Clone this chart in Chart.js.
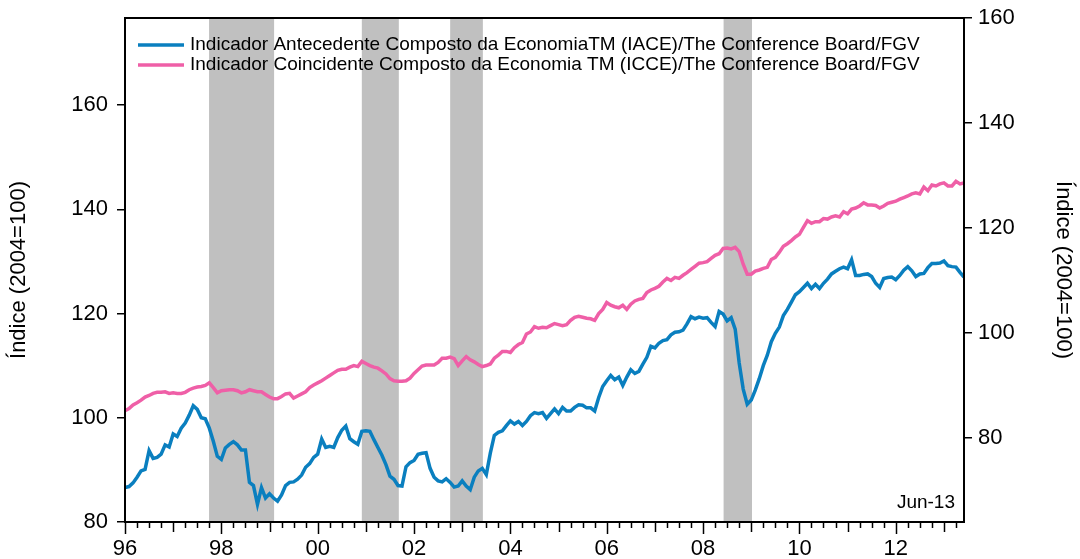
<!DOCTYPE html>
<html>
<head>
<meta charset="utf-8">
<script src="https://cdn.jsdelivr.net/npm/chart.js@4.4.0/dist/chart.umd.min.js"></script>
<style>
    html, body { margin: 0; padding: 0; background: #fff; }
    #wrap { width: 1080px; height: 559px; }
</style>
</head>
<body>
<div id="wrap"><canvas id="iaceChart" width="1080" height="559"></canvas></div>
<script>
// monthly series, Jan 1996 .. Jun 2013
var startYear = 1996;

var iace = [
    86.6, 86.8, 87.5, 88.6, 89.8, 90.1, 93.7, 92.2, 92.4, 93.0, 94.8, 94.4,
    96.9, 96.4, 98.0, 99.0, 100.5, 102.3, 101.6, 100.0, 99.8, 98.0, 95.5, 92.6,
    92.0, 94.2, 94.9, 95.4, 94.8, 93.8, 93.8, 87.6, 87.0, 83.4, 86.6, 84.6,
    85.4, 84.6, 84.0, 85.2, 87.0, 87.6, 87.7, 88.2, 89.0, 90.5, 91.2, 92.4,
    93.0, 95.9, 94.3, 94.5, 94.3, 96.2, 97.6, 98.4, 96.0, 95.4, 94.9, 97.4,
    97.5, 97.4, 95.8, 94.3, 92.8, 91.0, 88.8, 88.2, 87.0, 86.9, 90.6, 91.4,
    91.8, 93.0, 93.2, 93.3, 90.3, 88.6, 87.9, 87.7, 88.3, 87.6, 86.7, 86.9,
    87.9, 86.9, 86.2, 88.6, 89.8, 90.3, 89.1, 93.2, 96.6, 97.2, 97.5, 98.5,
    99.4, 98.8, 99.3, 98.5, 99.3, 100.4, 101.0, 100.8, 101.0, 99.9, 100.8, 101.7,
    100.8, 102.0, 101.3, 101.3, 102.0, 102.5, 102.4, 101.9, 101.9, 101.3, 103.9, 106.0,
    107.1, 108.1, 107.3, 107.8, 106.2, 107.8, 109.2, 108.5, 108.9, 110.3, 111.6, 113.7,
    113.4, 114.3, 114.8, 115.0, 115.9, 116.4, 116.5, 116.8, 118.0, 119.4, 119.0, 119.3,
    119.1, 119.2, 118.3, 117.5, 120.4, 119.9, 118.6, 119.2, 117.0, 110.5, 105.5, 102.6,
    103.4, 105.3, 107.5, 110.0, 112.0, 114.6, 116.2, 117.4, 119.6, 120.8, 122.2, 123.6,
    124.2, 125.0, 125.8, 124.8, 125.6, 124.8, 125.8, 126.6, 127.6, 128.1, 128.6, 128.9,
    128.6, 130.3, 127.3, 127.3, 127.5, 127.6, 127.1, 125.8, 125.0, 126.7, 126.9, 127.0,
    126.5, 127.3, 128.3, 129.0, 128.2, 127.1, 127.6, 127.7, 128.8, 129.6, 129.6, 129.7,
    130.1, 129.2, 129.0, 128.9, 127.9, 127.0
];

var icce = [
    85.2, 85.6, 86.3, 86.7, 87.2, 87.8, 88.1, 88.5, 88.7, 88.7, 88.8, 88.5,
    88.6, 88.5, 88.5, 88.7, 89.2, 89.5, 89.7, 89.8, 90.0, 90.5, 89.6, 88.6,
    89.0, 89.1, 89.2, 89.2, 89.0, 88.6, 88.8, 89.2, 89.0, 88.8, 88.8, 88.3,
    87.8, 87.5, 87.5, 87.9, 88.4, 88.5, 87.6, 88.0, 88.4, 88.8, 89.6, 90.1,
    90.5, 90.9, 91.4, 91.9, 92.4, 92.9, 93.1, 93.1, 93.5, 93.8, 93.6, 94.6,
    94.2, 93.8, 93.5, 93.3, 92.8, 92.2, 91.3, 90.9, 90.8, 90.8, 90.9, 91.4,
    92.3, 93.0, 93.7, 93.9, 93.9, 93.9, 94.4, 95.2, 95.2, 95.4, 95.1, 93.8,
    94.7, 95.5, 94.9, 94.5, 94.0, 93.6, 93.8, 94.1, 95.2, 95.8, 96.5, 96.5,
    96.3, 97.2, 97.8, 98.2, 99.8, 100.2, 101.2, 100.9, 101.1, 101.0, 101.4, 101.8,
    101.6, 101.4, 101.6, 102.4, 103.0, 103.2, 103.0, 102.8, 102.7, 102.4, 103.7, 104.5,
    105.8, 105.3, 105.0, 104.8, 105.3, 104.5, 105.5, 106.1, 106.4, 106.6, 107.7, 108.2,
    108.5, 108.9, 109.7, 110.4, 110.0, 110.6, 110.4, 111.0, 111.5, 112.1, 112.7, 113.3,
    113.4, 113.6, 114.2, 114.8, 115.1, 116.1, 116.2, 116.0, 116.3, 115.5, 113.1, 111.2,
    111.2, 111.8, 112.0, 112.3, 112.5, 114.0, 114.4, 115.4, 116.5, 117.0, 117.6, 118.3,
    118.8, 120.1, 121.4, 120.9, 121.2, 121.2, 121.8, 121.7, 122.1, 122.3, 122.1, 123.1,
    122.7, 123.6, 123.8, 124.2, 124.8, 124.4, 124.4, 124.3, 123.8, 124.2, 124.7, 124.9,
    125.1, 125.5, 125.8, 126.1, 126.5, 126.7, 126.5, 127.8, 127.1, 128.2, 128.0, 128.4,
    128.6, 128.0, 128.0, 128.9, 128.4, 128.6
];

// recession periods (decimal years), start / end
var recessionStart = [1997.745, 2000.916, 2002.75, 2008.426];
var recessionEnd = [1999.095, 2001.684, 2003.429, 2009.016];

var leftTicks = [80, 100, 120, 140, 160];
var rightTicks = [80, 100, 120, 140, 160];
var yearTicks = [1996, 1998, 2000, 2002, 2004, 2006, 2008, 2010, 2012];

var legendLabels = [
    'Indicador Antecedente Composto da EconomiaTM (IACE)/The Conference Board/FGV',
    'Indicador Coincidente Composto da Economia TM (ICCE)/The Conference Board/FGV'
];
var blue = '#0a7fbf';
var pink = '#ef5fa7';
var font = '"Liberation Sans", Arial, sans-serif';

var months = iace.map(function(v, i) { return startYear + i / 12; });
var lastMonth = months[months.length - 1];

function points(values) {
    return values.map(function(v, i) { return { x: months[i], y: v }; });
}

// keep the plot box where the original has it
function noPadding(s) {
    s.paddingTop = 0;
    s.paddingBottom = 0;
    s.paddingLeft = 0;
    s.paddingRight = 0;
}

// gray recession bands behind the lines
var bandsPlugin = {
    id: 'bands',
    beforeDatasetsDraw: function(chart) {
        var ctx = chart.ctx, area = chart.chartArea, xs = chart.scales.x;
        ctx.save();
        ctx.fillStyle = '#c0c0c0';
        for (var i = 0; i < recessionStart.length; i++) {
            var x0 = xs.getPixelForValue(recessionStart[i]);
            var x1 = xs.getPixelForValue(recessionEnd[i]);
            ctx.fillRect(x0, area.top, x1 - x0, area.bottom - area.top);
        }
        ctx.restore();
    }
};

// frame, quarterly ticks on x axis, legend and date note
var decorPlugin = {
    id: 'decor',
    afterDraw: function(chart) {
        var ctx = chart.ctx, area = chart.chartArea, xs = chart.scales.x;
        ctx.save();
        ctx.strokeStyle = '#000';
        ctx.lineWidth = 2;
        ctx.strokeRect(area.left, area.top, area.right - area.left, area.bottom - area.top);

        ctx.lineWidth = 1.5;
        for (var q = 0; startYear + q / 4 <= lastMonth + 0.01; q++) {
            var len = 6;
            if (q % 4 === 0) len = (q % 8 === 0) ? 12 : 10;
            var px = Math.round(xs.getPixelForValue(startYear + q / 4)) + 0.5;
            ctx.beginPath();
            ctx.moveTo(px, area.bottom);
            ctx.lineTo(px, area.bottom + len);
            ctx.stroke();
        }

        // legend
        var colors = [blue, pink];
        ctx.font = '19px ' + font;
        ctx.textBaseline = 'middle';
        ctx.fillStyle = '#000';
        for (var i = 0; i < legendLabels.length; i++) {
            var ly = 45 + i * 20;
            ctx.strokeStyle = colors[i];
            ctx.lineWidth = 3.5;
            ctx.beginPath();
            ctx.moveTo(138, ly);
            ctx.lineTo(184, ly);
            ctx.stroke();
            ctx.fillText(legendLabels[i], 190, ly);
        }

        ctx.font = '19px ' + font;
        ctx.textAlign = 'right';
        ctx.fillText('Jun-13', area.right - 9, 503);
        ctx.restore();
    }
};

var ctx = document.getElementById('iaceChart').getContext('2d');
var chart = new Chart(ctx, {
    type: 'line',
    data: {
        datasets: [{
            label: legendLabels[0],
            data: points(iace),
            yAxisID: 'y',
            borderColor: blue,
            borderWidth: 3.5,
            pointRadius: 0,
            fill: false
        }, {
            label: legendLabels[1],
            data: points(icce),
            yAxisID: 'y1',
            borderColor: pink,
            borderWidth: 3.5,
            pointRadius: 0,
            fill: false
        }]
    },
    options: {
        responsive: false,
        animation: false,
        devicePixelRatio: 1,
        layout: { padding: { top: 18, left: 0, right: 0, bottom: 0 } },
        plugins: {
            legend: { display: false },
            tooltip: { enabled: false }
        },
        scales: {
            x: {
                type: 'linear',
                min: startYear,
                max: lastMonth,
                afterFit: function(s) { s.height = 37; noPadding(s); },
                afterBuildTicks: function(s) {
                    s.ticks = yearTicks.map(function(v) { return { value: v }; });
                },
                grid: { display: false, drawTicks: false },
                border: { display: false },
                ticks: {
                    padding: 14,
                    maxRotation: 0,
                    autoSkip: false,
                    color: '#000',
                    font: { family: font, size: 22 },
                    callback: function(v) { return String(v).slice(2); }
                }
            },
            y: {
                position: 'left',
                min: 80,
                max: 176.7,
                afterFit: function(s) { s.width = 125; noPadding(s); },
                afterBuildTicks: function(s) {
                    s.ticks = leftTicks.map(function(v) { return { value: v }; });
                },
                grid: { drawOnChartArea: false, tickLength: 8, color: '#000', lineWidth: 1.5 },
                border: { display: false },
                ticks: { padding: 9, color: '#000', font: { family: font, size: 22 } },
                title: {
                    display: true,
                    text: 'Índice (2004=100)',
                    color: '#000',
                    padding: { top: 6, bottom: 0 },
                    font: { family: font, size: 22 }
                }
            },
            y1: {
                position: 'right',
                min: 64,
                max: 160,
                afterFit: function(s) { s.width = 116; noPadding(s); },
                afterBuildTicks: function(s) {
                    s.ticks = rightTicks.map(function(v) { return { value: v }; });
                },
                grid: { drawOnChartArea: false, tickLength: 8, color: '#000', lineWidth: 1.5 },
                border: { display: false },
                ticks: { padding: 6, color: '#000', font: { family: font, size: 22 } },
                title: {
                    display: true,
                    text: 'Índice (2004=100)',
                    color: '#000',
                    padding: { top: 4, bottom: 0 },
                    font: { family: font, size: 22 }
                }
            }
        }
    },
    plugins: [bandsPlugin, decorPlugin]
});
</script>
</body>
</html>
